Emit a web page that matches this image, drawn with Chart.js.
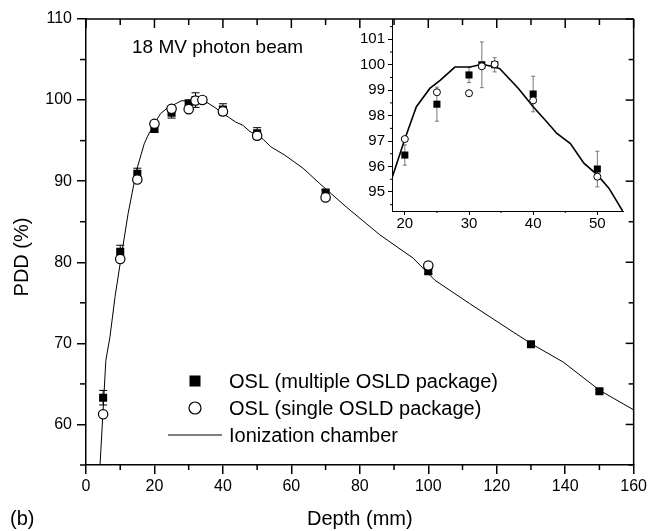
<!DOCTYPE html>
<html>
<head>
<meta charset="utf-8">
<script src="https://cdn.jsdelivr.net/npm/chart.js@4.4.0/dist/chart.umd.min.js"></script>
<style>
  body { margin: 0; background: #fff; }
  #wrap { position: relative; width: 650px; height: 531px; }
  #main { position: absolute; left: 0; top: 0; width: 650px; height: 531px; }
  #inset { position: absolute; left: 340px; top: 0; width: 300px; height: 240px; }
</style>
</head>
<body>
<div id="wrap">
  <canvas id="main" width="650" height="531"></canvas>
  <canvas id="inset" width="300" height="240"></canvas>
</div>
<script>
// OSL, multiple OSLD package (filled squares)
var depthMulti = [5, 10, 15, 20, 25, 30, 32, 34, 40, 50, 70, 100, 130, 150];
var pddMulti   = [63.3, 81.3, 90.9, 96.45, 98.45, 99.6, 100.0, 100.0, 98.85, 95.9, 88.6, 78.9, 69.9, 64.1];
var errMulti   = [0.9, 0.8, 0.7, 0.4, 0.67, 0.3, 0.9, 0.28, 0.7, 0.7, 0.3, 0.3, 0.2, 0.2];

// OSL, single OSLD package (open circles)
var depthSingle = [5, 10, 15, 20, 25, 30, 32, 34, 40, 50, 70, 100];
var pddSingle   = [61.25, 80.4, 90.2, 97.08, 98.92, 98.88, 99.94, 100.02, 98.6, 95.6, 88.0, 79.6];

// ionization chamber curve
var depthIC = [4.1, 5.8, 7, 8.5, 10, 12.3, 14.8, 17, 18, 20, 21.8, 23.9, 25.5, 27.8, 30.2, 32, 33.5, 34.8,
               37.7, 40, 41.9, 43.7, 45.8, 47.9, 50, 51.8, 53.9, 58.1, 63.4, 68.3, 76.1, 85.8, 95.6, 101.9,
               112.1, 124.8, 130.3, 139.4, 150.1, 160];
var pddIC   = [55, 67.9, 70.8, 75.8, 79.9, 86.0, 91.4, 94.6, 95.55, 97.08, 98.35, 99.07, 99.39, 99.91, 99.91, 100.02, 99.94, 99.85,
               99.07, 98.35, 97.82, 97.3, 96.9, 96.13, 95.67, 95.15, 94.27, 93.2, 91.6, 89.7, 86.8, 83.4, 80.5, 77.8,
               74.9, 71.4, 69.9, 67.7, 64.2, 61.8];

var xTicks = [0, 20, 40, 60, 80, 100, 120, 140, 160];
var yTicks = [60, 70, 80, 90, 100, 110];
var insetXTicks = [20, 30, 40, 50];
var insetYTicks = [95, 96, 97, 98, 99, 100, 101];

var fontFamily = '"Liberation Sans", Arial, Helvetica, sans-serif';
Chart.defaults.font.family = fontFamily;
Chart.defaults.color = '#000';

function zip(xs, ys) {
    return xs.map(function (x, i) { return {x: x, y: ys[i]}; });
}

function range(a, b, step) {
    var out = [];
    for (var v = a; v <= b + 1e-9; v += step) out.push(v);
    return out;
}

function line(ctx, x1, y1, x2, y2) {
    ctx.beginPath();
    ctx.moveTo(x1, y1);
    ctx.lineTo(x2, y2);
    ctx.stroke();
}

// vertical error bars with caps, drawn through the chart scales
function drawErrors(chart, xs, ys, errs, color, cap) {
    var ctx = chart.ctx, xs_ = chart.scales.x, ys_ = chart.scales.y, area = chart.chartArea;
    ctx.save();
    ctx.beginPath();
    ctx.rect(area.left, area.top, area.right - area.left, area.bottom - area.top);
    ctx.clip();
    ctx.strokeStyle = color;
    ctx.lineWidth = 1;
    xs.forEach(function (x, i) {
        if (x < xs_.min || x > xs_.max) return;
        var px = xs_.getPixelForValue(x);
        var top = ys_.getPixelForValue(ys[i] + errs[i]);
        var bot = ys_.getPixelForValue(ys[i] - errs[i]);
        line(ctx, px, top, px, bot);
        line(ctx, px - cap, top, px + cap, top);
        line(ctx, px - cap, bot, px + cap, bot);
    });
    ctx.restore();
}

var mainPlugin = {
    id: 'mainFrame',
    beforeDatasetsDraw: function (chart) {
        drawErrors(chart, depthMulti, pddMulti, errMulti, '#000', 4);
    },
    afterDraw: function (chart) {
        var ctx = chart.ctx, a = chart.chartArea, sx = chart.scales.x, sy = chart.scales.y;
        ctx.save();
        ctx.strokeStyle = '#000';
        ctx.lineWidth = 1.5;
        // top and right frame
        line(ctx, a.left, a.top, a.right, a.top);
        line(ctx, a.right, a.top, a.right, a.bottom);
        // top ticks (inward)
        range(0, 160, 10).forEach(function (v) {
            var px = sx.getPixelForValue(v);
            line(ctx, px, a.top, px, a.top + (v % 20 === 0 ? 9 : 6));
        });
        // right ticks (inward)
        range(55, 110, 5).forEach(function (v) {
            var py = sy.getPixelForValue(v);
            line(ctx, a.right, py, a.right - (v % 10 === 0 ? 8 : 5), py);
        });
        // minor ticks left / bottom (outward)
        range(55, 105, 10).forEach(function (v) {
            var py = sy.getPixelForValue(v);
            line(ctx, a.left, py, a.left - 6, py);
        });
        range(10, 150, 20).forEach(function (v) {
            var px = sx.getPixelForValue(v);
            line(ctx, px, a.bottom, px, a.bottom + 5);
        });

        // texts
        ctx.fillStyle = '#000';
        ctx.textBaseline = 'alphabetic';
        ctx.font = '19px ' + fontFamily;
        ctx.textAlign = 'left';
        ctx.fillText('18 MV photon beam', 132, 53);

        ctx.font = '20px ' + fontFamily;
        ctx.textAlign = 'center';
        ctx.fillText('Depth (mm)', (a.left + a.right) / 2, 525);
        ctx.textAlign = 'left';
        ctx.fillText('(b)', 10, 525);

        ctx.save();
        ctx.translate(28, 257);
        ctx.rotate(-Math.PI / 2);
        ctx.textAlign = 'center';
        ctx.fillText('PDD (%)', 0, 0);
        ctx.restore();

        // legend
        var ds = chart.data.datasets;
        ctx.fillStyle = '#000';
        ctx.fillRect(195 - 5.5, 381 - 5.5, 11, 11);
        ctx.beginPath();
        ctx.arc(195, 408, 6, 0, Math.PI * 2);
        ctx.fillStyle = '#fff';
        ctx.fill();
        ctx.lineWidth = 1.2;
        ctx.stroke();
        ctx.lineWidth = 1;
        line(ctx, 168, 435, 222, 435);

        ctx.fillStyle = '#000';
        ctx.font = '20px ' + fontFamily;
        ctx.textAlign = 'left';
        ctx.fillText(ds[1].label, 229, 388);
        ctx.fillText(ds[0].label, 229, 415);
        ctx.fillText(ds[2].label, 229, 442);
        ctx.restore();
    }
};

var mainChart = new Chart(document.getElementById('main'), {
    type: 'scatter',
    data: {
        datasets: [{
            label: 'OSL (single OSLD package)',
            data: zip(depthSingle, pddSingle),
            pointStyle: 'circle',
            pointRadius: 4.7,
            pointBackgroundColor: '#fff',
            pointBorderColor: '#000',
            pointBorderWidth: 1.2,
            showLine: false
        }, {
            label: 'OSL (multiple OSLD package)',
            data: zip(depthMulti, pddMulti),
            pointStyle: 'rect',
            pointRadius: 5.7,
            pointBackgroundColor: '#000',
            pointBorderColor: '#000',
            pointBorderWidth: 0,
            showLine: false
        }, {
            label: 'Ionization chamber',
            data: zip(depthIC, pddIC),
            showLine: true,
            borderColor: '#000',
            borderWidth: 1,
            pointRadius: 0,
            tension: 0
        }]
    },
    options: {
        responsive: false,
        animation: false,
        events: [],
        layout: { padding: { left: 0, right: 16, top: 19, bottom: 0 } },
        plugins: { legend: { display: false }, tooltip: { enabled: false } },
        scales: {
            x: {
                type: 'linear', min: 0, max: 160,
                afterBuildTicks: function (s) { s.ticks = xTicks.map(function (v) { return {value: v}; }); },
                afterFit: function (s) { s.height = 66; },
                ticks: { font: { size: 16 }, color: '#000', padding: 3, maxRotation: 0, autoSkip: false },
                grid: { drawOnChartArea: false, color: '#000', lineWidth: 1.5, tickLength: 9 },
                border: { color: '#000', width: 1.5 }
            },
            y: {
                type: 'linear', min: 55, max: 110,
                afterBuildTicks: function (s) { s.ticks = yTicks.map(function (v) { return {value: v}; }); },
                afterFit: function (s) { s.width = 86; },
                ticks: { font: { size: 16 }, color: '#000', padding: 5, autoSkip: false },
                grid: { drawOnChartArea: false, color: '#000', lineWidth: 1.5, tickLength: 9 },
                border: { color: '#000', width: 1.5 }
            }
        }
    },
    plugins: [mainPlugin]
});

var insetPlugin = {
    id: 'insetFrame',
    beforeDatasetsDraw: function (chart) {
        drawErrors(chart, depthMulti, pddMulti, errMulti, '#777', 2);
    },
    afterDraw: function (chart) {
        var ctx = chart.ctx, a = chart.chartArea, sx = chart.scales.x, sy = chart.scales.y;
        ctx.save();
        ctx.strokeStyle = '#000';
        ctx.lineWidth = 1;
        range(94.5, 101.5, 1).forEach(function (v) {
            var py = sy.getPixelForValue(v);
            line(ctx, a.left, py, a.left - 2, py);
        });
        range(25, 45, 10).forEach(function (v) {
            var px = sx.getPixelForValue(v);
            line(ctx, px, a.bottom, px, a.bottom + 2);
        });
        ctx.restore();
    }
};

var insetChart = new Chart(document.getElementById('inset'), {
    type: 'scatter',
    data: {
        datasets: [{
            label: 'OSL (single OSLD package)',
            data: zip(depthSingle, pddSingle),
            pointStyle: 'circle',
            pointRadius: 3.5,
            pointBackgroundColor: '#fff',
            pointBorderColor: '#000',
            pointBorderWidth: 1,
            showLine: false
        }, {
            label: 'OSL (multiple OSLD package)',
            data: zip(depthMulti, pddMulti),
            pointStyle: 'rect',
            pointRadius: 5,
            pointBackgroundColor: '#000',
            pointBorderColor: '#000',
            pointBorderWidth: 0,
            showLine: false
        }, {
            label: 'Ionization chamber',
            data: zip(depthIC, pddIC),
            showLine: true,
            borderColor: '#000',
            borderWidth: 1.6,
            pointRadius: 0,
            tension: 0
        }]
    },
    options: {
        responsive: false,
        animation: false,
        events: [],
        layout: { padding: { left: 0, right: 17, top: 19, bottom: 0 } },
        plugins: { legend: { display: false }, tooltip: { enabled: false } },
        scales: {
            x: {
                type: 'linear', min: 18, max: 54,
                afterBuildTicks: function (s) { s.ticks = insetXTicks.map(function (v) { return {value: v}; }); },
                afterFit: function (s) { s.height = 29; },
                ticks: { font: { size: 15 }, color: '#000', padding: 0, maxRotation: 0, autoSkip: false },
                grid: { drawOnChartArea: false, color: '#000', lineWidth: 1, tickLength: 4 },
                border: { color: '#000', width: 1 }
            },
            y: {
                type: 'linear', min: 94.25, max: 101.8,
                afterBuildTicks: function (s) { s.ticks = insetYTicks.map(function (v) { return {value: v}; }); },
                afterFit: function (s) { s.width = 52; },
                ticks: { font: { size: 15 }, color: '#000', padding: 3, autoSkip: false },
                grid: { drawOnChartArea: false, color: '#000', lineWidth: 1, tickLength: 4 },
                border: { color: '#000', width: 1 }
            }
        }
    },
    plugins: [insetPlugin]
});
</script>
</body>
</html>
